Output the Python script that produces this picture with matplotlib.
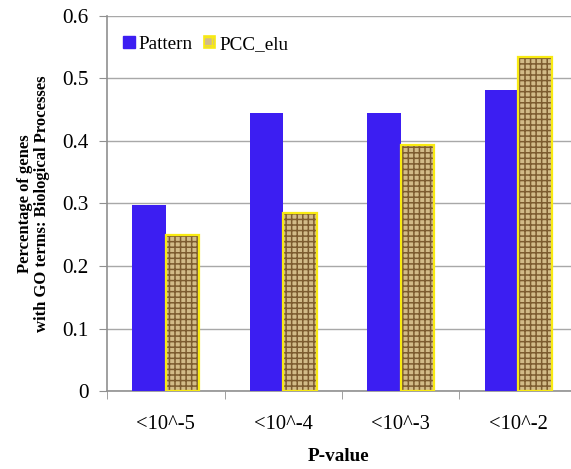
import matplotlib
matplotlib.use("Agg")
import matplotlib.pyplot as plt
from matplotlib.patches import Patch
import numpy as np

categories = ["<10^-5", "<10^-4", "<10^-3", "<10^-2"]
pattern = [0.297, 0.445, 0.445, 0.482]
pcc_elu = [0.250, 0.285, 0.393, 0.535]

plt.rcParams["font.family"] = ["Liberation Serif", "DejaVu Serif"]
plt.rcParams["hatch.linewidth"] = 1.1

fig = plt.figure(figsize=(5.71, 4.69), dpi=100)
ax = fig.add_axes([0.1874, 0.1663, 0.8126, 0.7996])

x = np.arange(len(categories))
w = 0.285
blue = "#3c1ef2"
tan = "#d2bb88"
brown = "#7d5c30"
yellow = "#f8ea12"

ax.bar(x - w / 2, pattern, w, color=blue, zorder=3)
# textured bars: hatch first, yellow outline on top
ax.bar(x + w / 2, pcc_elu, w, facecolor=tan, edgecolor=brown,
       hatch="+++", linewidth=0, zorder=3)
ax.bar(x + w / 2, pcc_elu, w, fill=False, edgecolor=yellow,
       linewidth=1.6, zorder=4)

ax.set_ylim(0, 0.6)
ax.set_xlim(-0.5, 3.449)
ax.set_yticks(np.arange(0, 0.61, 0.1))
ax.set_yticklabels(["0", "0.1", "0.2", "0.3", "0.4", "0.5", "0.6"])
ax.yaxis.grid(True, color="#a8a8a8", linewidth=1.0, zorder=0)
ax.set_axisbelow(True)

ax.set_xticks(x)
ax.set_xticklabels(categories)
ax.set_xticks(np.arange(-0.5, 3.0, 1.0), minor=True)
ax.tick_params(axis="x", which="major", length=0, pad=17, labelsize=14.8)
ax.tick_params(axis="x", which="minor", length=6, color="#909090", direction="out")
ax.tick_params(axis="y", length=6, color="#909090", direction="out", pad=7, labelsize=15.3)

for s in ["top", "right"]:
    ax.spines[s].set_visible(False)
for s in ["left", "bottom"]:
    ax.spines[s].set_color("#909090")
    ax.spines[s].set_linewidth(1.2)

ax.set_xlabel("P-value", fontsize=13.8, fontweight="bold", labelpad=10)
ax.set_ylabel("Percentage of genes\nwith GO terms: Biological Processes",
              fontsize=12, fontweight="bold", labelpad=9, linespacing=1.05)

handles = [
    Patch(facecolor=blue, edgecolor=blue),
    Patch(facecolor=tan, edgecolor=yellow, hatch="++", linewidth=1.2),
]
ax.legend(handles, ["Pattern", "PCC_elu"], loc="upper left", ncol=2,
          frameon=False, fontsize=13.8, handlelength=0.6, handleheight=0.6,
          handletextpad=0.2, columnspacing=0.6, borderaxespad=0,
          bbox_to_anchor=(0.018, 0.968))

fig.savefig("out.png", dpi=100, facecolor="white")
